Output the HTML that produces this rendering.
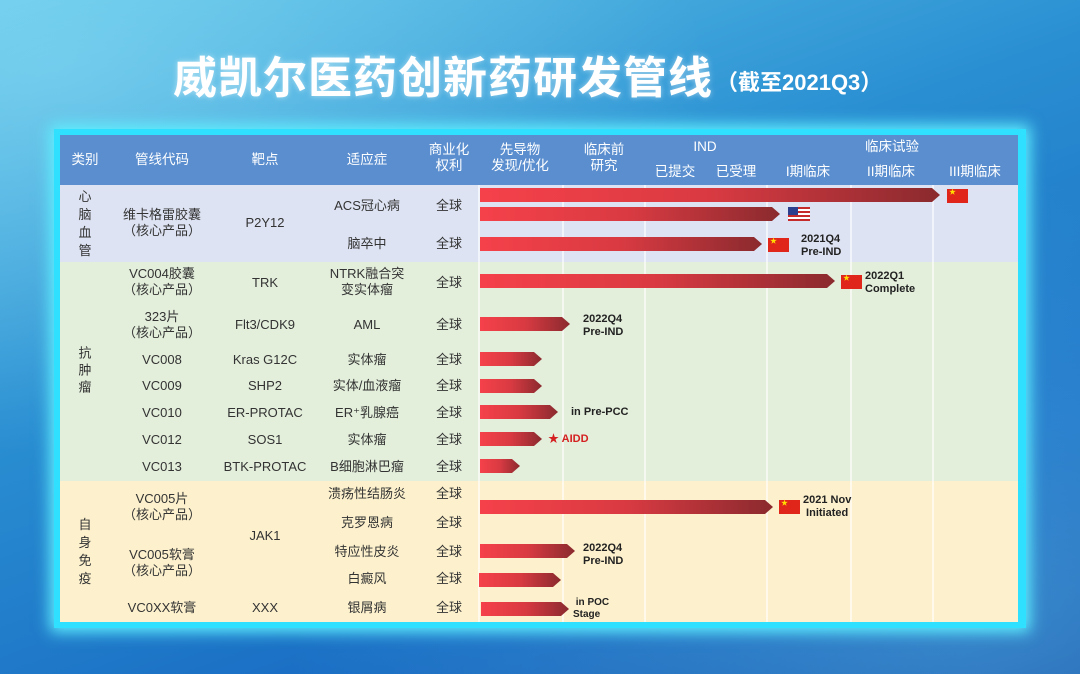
<!DOCTYPE html>
<html><head><meta charset="utf-8"><style>
*{margin:0;padding:0;box-sizing:border-box}
body{width:1080px;height:674px;overflow:hidden;position:relative;font-family:"Liberation Sans","Noto Sans CJK SC",sans-serif;
background:linear-gradient(160deg,#5fc6e8 0%,#2a8fd2 40%,#1a6ec4 75%,#1552a8 100%);}
.a{position:absolute}
.t{position:absolute;transform:translate(-50%,-50%);white-space:nowrap;text-align:center;font-size:13px;color:#333;line-height:16px}
.h{color:#fff;font-size:13.5px}
.bar{position:absolute;height:14px;background:linear-gradient(90deg,#f5414a,#d93a42 50%,#8a2a2e);clip-path:polygon(0 0,calc(100% - 8px) 0,100% 50%,calc(100% - 8px) 100%,0 100%)}
.cn{position:absolute;width:21px;height:14px;background:#e0261b}
.cn:after{content:"★";position:absolute;left:2px;top:-2px;font-size:7px;color:#ffde00}
.n{position:absolute;font-size:11px;font-weight:bold;color:#222;line-height:13px;white-space:nowrap}
.vl{position:absolute;top:185px;width:2px;height:437px;background:rgba(255,255,255,.6)}
</style></head><body>
<div class="a" style="left:0;top:0;width:1080px;height:674px;background:radial-gradient(ellipse at 90% 90%,rgba(120,220,255,.35),transparent 50%),radial-gradient(ellipse at 5% 10%,rgba(160,230,250,.4),transparent 45%)"></div>
<div class="a" style="left:173px;top:52px;font-size:44px;font-weight:bold;color:#fff;letter-spacing:1px;line-height:54px;text-shadow:0 0 6px rgba(255,255,255,.5)">威凯尔医药创新药研发管线</div>
<div class="a" style="left:716px;top:68px;font-size:22px;font-weight:bold;color:#fff;line-height:30px">（截至2021Q3）</div>
<!-- panel -->
<div class="a" style="left:54px;top:129px;width:972px;height:499px;background:#2fe0ff;box-shadow:0 0 14px 4px #5ff0ff"></div>
<div class="a" style="left:60px;top:135px;width:958px;height:50px;background:#5a8ecf"></div>
<div class="a" style="left:60px;top:185px;width:958px;height:77px;background:#dde3f2"></div>
<div class="a" style="left:60px;top:262px;width:958px;height:219px;background:#e3eedb"></div>
<div class="a" style="left:60px;top:481px;width:958px;height:141px;background:#fdf1cd"></div>
<div class="vl" style="left:478px"></div><div class="vl" style="left:562px"></div><div class="vl" style="left:644px"></div><div class="vl" style="left:766px"></div><div class="vl" style="left:850px"></div><div class="vl" style="left:932px"></div>
<!-- header -->
<div class="t h" style="left:85px;top:160px">类别</div>
<div class="t h" style="left:162px;top:160px">管线代码</div>
<div class="t h" style="left:265px;top:160px">靶点</div>
<div class="t h" style="left:367px;top:160px">适应症</div>
<div class="t h" style="left:449px;top:158px">商业化<br>权利</div>
<div class="t h" style="left:520px;top:158px">先导物<br>发现/优化</div>
<div class="t h" style="left:604px;top:158px">临床前<br>研究</div>
<div class="t h" style="left:705px;top:147px">IND</div>
<div class="t h" style="left:675px;top:172px">已提交</div>
<div class="t h" style="left:736px;top:172px">已受理</div>
<div class="t h" style="left:808px;top:172px">I期临床</div>
<div class="t h" style="left:892px;top:147px">临床试验</div>
<div class="t h" style="left:891px;top:172px">II期临床</div>
<div class="t h" style="left:975px;top:172px">III期临床</div>
<!-- categories -->
<div class="t" style="left:85px;top:224px;line-height:18px">心<br>脑<br>血<br>管</div>
<div class="t" style="left:85px;top:370px;line-height:17px">抗<br>肿<br>瘤</div>
<div class="t" style="left:85px;top:552px;line-height:18px">自<br>身<br>免<br>疫</div>
<!-- rows text -->
<div class="t" style="left:162px;top:223px">维卡格雷胶囊<br>（核心产品）</div>
<div class="t" style="left:265px;top:223px">P2Y12</div>
<div class="t" style="left:367px;top:206px">ACS冠心病</div><div class="t" style="left:449px;top:206px">全球</div>
<div class="t" style="left:367px;top:244px">脑卒中</div><div class="t" style="left:449px;top:244px">全球</div>

<div class="t" style="left:162px;top:282px">VC004胶囊<br>（核心产品）</div><div class="t" style="left:265px;top:283px">TRK</div><div class="t" style="left:367px;top:282px">NTRK融合突<br>变实体瘤</div><div class="t" style="left:449px;top:283px">全球</div>
<div class="t" style="left:162px;top:325px">323片<br>（核心产品）</div><div class="t" style="left:265px;top:325px">Flt3/CDK9</div><div class="t" style="left:367px;top:325px">AML</div><div class="t" style="left:449px;top:325px">全球</div>
<div class="t" style="left:162px;top:360px">VC008</div><div class="t" style="left:265px;top:360px">Kras G12C</div><div class="t" style="left:367px;top:360px">实体瘤</div><div class="t" style="left:449px;top:360px">全球</div>
<div class="t" style="left:162px;top:386px">VC009</div><div class="t" style="left:265px;top:386px">SHP2</div><div class="t" style="left:367px;top:386px">实体/血液瘤</div><div class="t" style="left:449px;top:386px">全球</div>
<div class="t" style="left:162px;top:413px">VC010</div><div class="t" style="left:265px;top:413px">ER-PROTAC</div><div class="t" style="left:367px;top:413px">ER⁺乳腺癌</div><div class="t" style="left:449px;top:413px">全球</div>
<div class="t" style="left:162px;top:440px">VC012</div><div class="t" style="left:265px;top:440px">SOS1</div><div class="t" style="left:367px;top:440px">实体瘤</div><div class="t" style="left:449px;top:440px">全球</div>
<div class="t" style="left:162px;top:467px">VC013</div><div class="t" style="left:265px;top:467px">BTK-PROTAC</div><div class="t" style="left:367px;top:467px">B细胞淋巴瘤</div><div class="t" style="left:449px;top:467px">全球</div>

<div class="t" style="left:162px;top:507px">VC005片<br>（核心产品）</div>
<div class="t" style="left:265px;top:536px">JAK1</div>
<div class="t" style="left:367px;top:494px">溃疡性结肠炎</div><div class="t" style="left:449px;top:494px">全球</div>
<div class="t" style="left:367px;top:523px">克罗恩病</div><div class="t" style="left:449px;top:523px">全球</div>
<div class="t" style="left:162px;top:563px">VC005软膏<br>（核心产品）</div>
<div class="t" style="left:367px;top:552px">特应性皮炎</div><div class="t" style="left:449px;top:552px">全球</div>
<div class="t" style="left:367px;top:579px">白癜风</div><div class="t" style="left:449px;top:579px">全球</div>
<div class="t" style="left:162px;top:608px">VC0XX软膏</div><div class="t" style="left:265px;top:608px">XXX</div><div class="t" style="left:367px;top:608px">银屑病</div><div class="t" style="left:449px;top:608px">全球</div>
<!-- bars -->
<div class="bar" style="left:480px;top:188px;width:460px"></div><div class="cn" style="left:947px;top:189px"></div>
<div class="bar" style="left:480px;top:207px;width:300px"></div>
<div class="a" style="left:788px;top:207px;width:22px;height:14px;background:repeating-linear-gradient(180deg,#c62b2b 0 2px,#fff 2px 4px)"></div><div class="a" style="left:788px;top:207px;width:10px;height:8px;background:#2c3f8f"></div>
<div class="bar" style="left:480px;top:237px;width:282px"></div><div class="cn" style="left:768px;top:238px"></div><div class="n" style="left:801px;top:233px">2021Q4<br>Pre-IND</div>
<div class="bar" style="left:480px;top:274px;width:355px"></div><div class="cn" style="left:841px;top:275px"></div><div class="n" style="left:865px;top:270px">2022Q1<br>Complete</div>
<div class="bar" style="left:480px;top:317px;width:90px"></div><div class="n" style="left:583px;top:313px">2022Q4<br>Pre-IND</div>
<div class="bar" style="left:480px;top:352px;width:62px"></div>
<div class="bar" style="left:480px;top:379px;width:62px"></div>
<div class="bar" style="left:480px;top:405px;width:78px"></div><div class="n" style="left:571px;top:406px">in Pre-PCC</div>
<div class="bar" style="left:480px;top:432px;width:62px"></div><div class="n" style="left:548px;top:433px;color:#d42020">★ AIDD</div>
<div class="bar" style="left:480px;top:459px;width:40px"></div>
<div class="bar" style="left:480px;top:500px;width:293px"></div><div class="cn" style="left:779px;top:500px"></div><div class="n" style="left:803px;top:494px">2021 Nov<br>&nbsp;Initiated</div>
<div class="bar" style="left:480px;top:544px;width:95px"></div><div class="n" style="left:583px;top:542px">2022Q4<br>Pre-IND</div>
<div class="bar" style="left:479px;top:573px;width:82px"></div>
<div class="bar" style="left:481px;top:602px;width:88px"></div><div class="n" style="left:573px;top:597px;font-size:10px;line-height:12px">&nbsp;in POC<br>Stage</div>
</body></html>
